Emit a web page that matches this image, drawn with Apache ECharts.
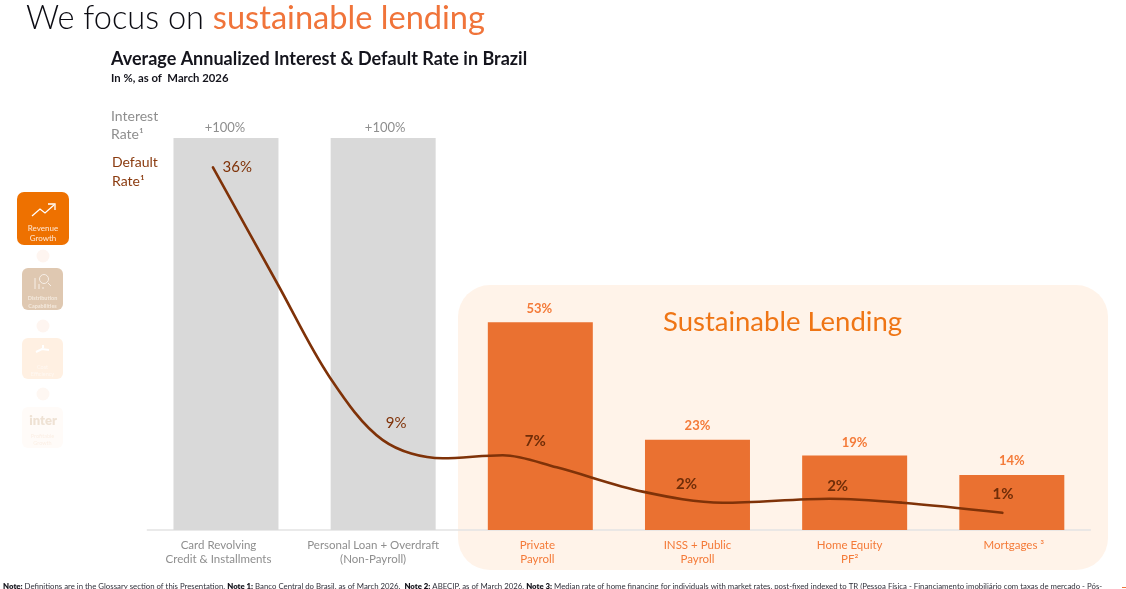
<!DOCTYPE html>
<html><head><meta charset="utf-8">
<style>html,body{margin:0;padding:0;background:#fff;overflow:hidden}#c{width:1126px;height:589px}</style>
<script src="https://cdn.jsdelivr.net/npm/echarts@6/dist/echarts.min.js"></script>
</head><body><div id="c"></div>
<script>
const categories = ['Card Revolving\nCredit & Installments','Personal Loan + Overdraft\n(Non-Payroll)','Private\nPayroll','INSS + Public\nPayroll','Home Equity\nPF²','Mortgages ³'];
const interestRate = [100,100,53,23,19,14];
const interestLabels = ['+100%','+100%','53%','23%','19%','14%'];
// default-rate labels and where each sits along the drawn curve
const defaultLabels = ['36%','9%','7%','2%','2%','1%'];
const defaultPos = [0.425,1.5,2.5,3.5,4.5,5.45];
const defaultHeight = [36,8.9,6.7,3.0,3.1,1.7];
// the drawn curve (category position, height in rate units)
const curvePos = [0.417,0.830,1.161,1.498,1.879,2.261,2.604,3.151,3.660,4.340,4.805,5.440];
const curveHeight = [35.9,24.3,15.1,8.9,7.1,7.4,6.2,3.8,2.7,3.1,2.7,1.7];

const GREY='#D9D9D9', ORANGE='#EA7131', BROWN='#7F3208', LORANGE='#F47A38', TGREY='#8E8E8E';
const F='Lato, "Open Sans", sans-serif';
const lblOffsets=[[23,1],[13,-17],[-5,-21],[-11,-16],[-17,-13],[-1,-19]];
const barLblOffsets=[[-1,0],[2,0],[-1,0],[0,-1],[0,1],[0,-1]];
const catPad=[[0,15,0,0],[0,20,0,0],[0,6,0,0],[0,0,0,0],[0,10,0,0],[0,0,0,4]];

const chart=echarts.init(document.getElementById('c'),null,{renderer:'canvas'});
function t(x,y,text,style,extra){return Object.assign({type:'text',x,y,z:5,style:Object.assign({text,font:'13px '+F,fill:'#000',textVerticalAlign:'middle'},style)},extra||{});}
function card(x,y,w,h,fill,r){return {type:'rect',z:1,shape:{x,y,width:w,height:h,r},style:{fill}};}
function dot(y,fill){return {type:'circle',z:1,shape:{cx:43,cy:y,r:6.5},style:{fill}};}
function pl(points,stroke,lw){return {type:'polyline',z:2,shape:{points},style:{stroke,lineWidth:lw||1.2,fill:null}};}
const graphics=[
 {type:'rect',z:-1,silent:true,shape:{x:458,y:285,width:650,height:285,r:32},style:{fill:'#FFF3E9'}},
 t(26,18,'',{text:'{a|We focus on }{b|sustainable lending}',rich:{a:{font:'300 32.6px '+F,fill:'#0b0b12'},b:{font:'400 32.6px '+F,fill:'#F0743A'}}}),
 t(111,59,'Average Annualized Interest & Default Rate in Brazil',{font:'700 18px '+F,fill:'#14141c'}),
 t(111,78,'In %, as of  March 2026',{font:'700 11.3px '+F,fill:'#14141c'}),
 t(111,116.5,'Interest',{font:'14px '+F,fill:TGREY}),
 t(111,134.5,'Rate¹',{font:'14px '+F,fill:TGREY}),
 t(112,162,'Default',{font:'14px '+F,fill:'#8A3A0E'}),
 t(112,181,'Rate¹',{font:'14px '+F,fill:'#8A3A0E'}),
 t(663,322.5,'Sustainable Lending',{font:'400 27.5px '+F,fill:'#EF7515'}),
 // left-hand strip
 card(17,192,52,53,'#EE7100',7),
 pl([[32,216],[40,209],[45,213],[54,205]],'#fff',1.3), pl([[48,204],[55,204],[55,210]],'#fff',1.3),
 t(43,228,'Revenue',{font:'8px '+F,fill:'#FFE8D6',textAlign:'center'}),
 t(43,238,'Growth',{font:'8px '+F,fill:'#FFE8D6',textAlign:'center'}),
 dot(256,'#FEF5F0'),
 card(22,268,41,42,'#DFC8B1',6),
 {type:'circle',z:2,shape:{cx:44,cy:279,r:4.5},style:{stroke:'#F7EFE7',lineWidth:1,fill:null}},
 pl([[35,278],[35,289]],'#F7EFE7',1), pl([[39,284],[39,289]],'#F7EFE7',1), pl([[43,287],[43,289]],'#F7EFE7',1),pl([[48,283],[51,286]],'#F7EFE7',1),
 t(42.5,298,'Distribution',{font:'700 5.5px '+F,fill:'#F3E8DC',textAlign:'center'}),
 t(42.5,306,'Capabilities',{font:'700 5.5px '+F,fill:'#F3E8DC',textAlign:'center'}),
 dot(326,'#FEF5F0'),
 card(22,338,41,41,'#FFF0E2',6),
 pl([[36,352],[42,349],[49,350]],'#FFFFFF',2), pl([[43,345],[43,348]],'#FFFFFF',2),
 t(42.5,367,'Cost',{font:'5.5px '+F,fill:'#FFF8F2',textAlign:'center'}),
 t(42.5,374,'Efficiency',{font:'5.5px '+F,fill:'#FFF8F2',textAlign:'center'}),
 dot(394,'#FEF7F2'),
 card(22,407,41,41,'#FFFBF8',6),
 t(43,421,'inter',{font:'800 13px '+F,fill:'#EFE2D4',textAlign:'center'}),
 t(42.5,436,'Profitable',{font:'5.5px '+F,fill:'#FBEFE5',textAlign:'center'}),
 t(42.5,443,'Growth',{font:'5.5px '+F,fill:'#FBEFE5',textAlign:'center'}),
 // footnote
 t(3,586,'',{text:'{b|Note:} Definitions are in the Glossary section of this Presentation. {b|Note 1:} Banco Central do Brasil, as of March 2026.  {b|Note 2:} ABECIP, as of March 2026. {b|Note 3:} Median rate of home financing for individuals with market rates, post-fixed indexed to TR (Pessoa Física - Financiamento imobiliário com taxas de mercado - Pós-',font:'7.8px '+F,fill:'#30303a',rich:{b:{font:'800 7.8px '+F,fill:'#14141c'}}}),
 {type:'rect',z:1,shape:{x:1122,y:587,width:4,height:1},style:{fill:'#F0743A'}}
];
chart.setOption({
 animation:false,
 backgroundColor:'#fff',
 graphic:graphics,
 grid:{left:147.4,right:35.6,top:138,bottom:59,containLabel:false},
 xAxis:[
  {type:'category',data:categories.map((c,i)=>({value:c,textStyle:{padding:catPad[i]}})),axisTick:{show:false},axisLine:{lineStyle:{color:'#E3E3E3',width:1.5}},
   axisLabel:{interval:0,margin:8,fontFamily:F,fontSize:11.5,lineHeight:14,
     color:(v,i)=>i<2?TGREY:LORANGE}},
  {type:'value',min:0,max:6,show:false}
 ],
 yAxis:[
  {type:'value',min:0,max:100,show:false},
  {type:'value',min:0,max:38.8,show:false}
 ],
 series:[
  {type:'bar',name:'Interest Rate',barWidth:105,xAxisIndex:0,yAxisIndex:0,z:2,
   data:interestRate.map((v,i)=>({value:v,itemStyle:{color:i<2?GREY:ORANGE},
     label:{show:true,position:'top',distance:i<2?4:7,offset:barLblOffsets[i],formatter:interestLabels[i],fontFamily:F,
       fontSize:13,fontWeight:i<2?'normal':'bold',color:i<2?TGREY:LORANGE}}))},
  {type:'line',name:'Default Rate',xAxisIndex:1,yAxisIndex:1,z:3,smooth:0.33,showSymbol:false,
   lineStyle:{color:BROWN,width:2.6,cap:'round'},
   data:curvePos.map((x,i)=>[x,curveHeight[i]])},
  {type:'line',name:'Default Rate labels',xAxisIndex:1,yAxisIndex:1,z:4,showSymbol:true,symbol:'circle',symbolSize:0,
   lineStyle:{width:0,opacity:0},
   data:defaultPos.map((x,i)=>({value:[x,defaultHeight[i]],
     label:{show:true,position:'inside',offset:lblOffsets[i],formatter:defaultLabels[i],fontFamily:F,fontSize:15,
       fontWeight:i<2?'normal':'bold',color:i<2?'#7F3208':'#6F2D08'}}))}
 ]
});
</script></body></html>
